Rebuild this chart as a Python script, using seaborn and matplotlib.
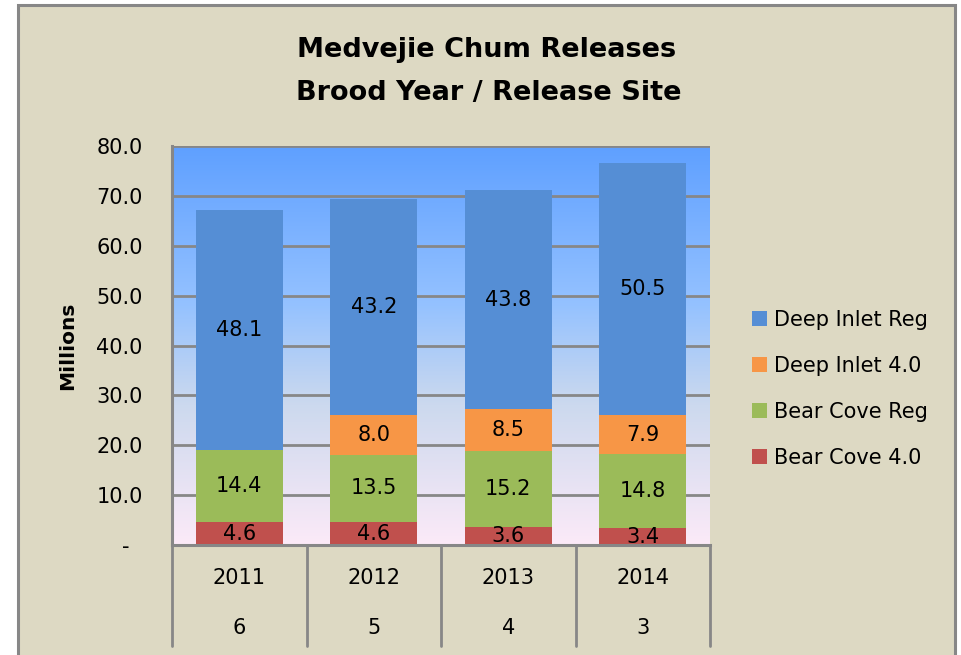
import numpy as np
import pandas as pd
import matplotlib
matplotlib.use("Agg")
import matplotlib.pyplot as plt
import seaborn as sns
from matplotlib.colors import LinearSegmentedColormap
from matplotlib.patches import Rectangle
from matplotlib.lines import Line2D
import matplotlib.transforms as mtransforms

# ---- data ----
years = ["2011", "2012", "2013", "2014"]
sites = ["6", "5", "4", "3"]
bear_cove_40 = [4.6, 4.6, 3.6, 3.4]
bear_cove_reg = [14.4, 13.5, 15.2, 14.8]
deep_inlet_40 = [0.0, 8.0, 8.5, 7.9]
deep_inlet_reg = [48.1, 43.2, 43.8, 50.5]
series_names = ["Bear Cove 4.0", "Bear Cove Reg", "Deep Inlet 4.0", "Deep Inlet Reg"]
series_colors = ["#C0504D", "#9BBB59", "#F79646", "#558ED5"]
y_ticks = [0, 10, 20, 30, 40, 50, 60, 70, 80]

sns.set_theme(style="white")
plt.rcParams["font.family"] = ["DejaVu Sans"]
plt.rcParams["text.color"] = "black"
plt.rcParams["axes.labelcolor"] = "black"
plt.rcParams["xtick.color"] = "black"
plt.rcParams["ytick.color"] = "black"

BG = "#DDD9C3"
GRID = "#878787"
FS = 15

fig = plt.figure(figsize=(9.61, 6.55), dpi=100, facecolor="white")
# outer chart frame
fig.patches.append(Rectangle((17.5 / 961, -0.05), (955 - 17.5) / 961, 1.05 - 5 / 655,
                             transform=fig.transFigure, facecolor=BG,
                             edgecolor=GRID, linewidth=2.2, zorder=-10))

ax = fig.add_axes([172 / 961, 1 - 545 / 655, (710 - 172) / 961, (545 - 146) / 655])
ax.set_facecolor("none")

# gradient background
cmap = LinearSegmentedColormap.from_list(
    "bg", [(0.0, "#FCEAF8"), (0.35, "#CCD9EE"), (0.6, "#95C2FF"), (1.0, "#5FA0FF")])
grad = np.linspace(0, 1, 256).reshape(-1, 1)
ax.imshow(grad, cmap=cmap, origin="lower", aspect="auto",
          extent=[-0.5, 3.5, 0, 80], zorder=0)

# gridlines
for t in y_ticks[1:]:
    ax.axhline(t, color=GRID, lw=2.0, zorder=1)

# stacked bars
data = pd.DataFrame({
    "year": years,
    "Bear Cove 4.0": bear_cove_40,
    "Bear Cove Reg": bear_cove_reg,
    "Deep Inlet 4.0": deep_inlet_40,
    "Deep Inlet Reg": deep_inlet_reg,
})
cum = data[series_names].cumsum(axis=1)
for name, col in reversed(list(zip(series_names, series_colors))):
    sns.barplot(x=data["year"], y=cum[name], color=col, width=0.65,
                linewidth=0, saturation=1, ax=ax, zorder=2)

# data labels
bottoms = np.zeros(len(years))
for name in series_names:
    vals = np.array(data[name])
    for i, v in enumerate(vals):
        if v > 0:
            ax.text(i, bottoms[i] + v / 2, f"{v:.1f}", ha="center", va="center",
                    fontsize=FS, color="black", zorder=4, clip_on=False)
    bottoms += vals

ax.set_xlim(-0.5, 3.5)
ax.set_ylim(0, 80)
ax.set_yticks(y_ticks)
ax.set_yticklabels(["-  " if t == 0 else f"{t:.1f}" for t in y_ticks], fontsize=FS)
ax.tick_params(axis="y", length=0, pad=21)
ax.set_xticks([])
ax.set_xlabel("")
ax.set_ylabel("Millions", fontsize=14.5, fontweight="bold", labelpad=14)
for s in ["top", "right"]:
    ax.spines[s].set_visible(False)
for s in ["left", "bottom"]:
    ax.spines[s].set_color(GRID)
    ax.spines[s].set_linewidth(2.2)
    ax.spines[s].set_zorder(5)

# category table below axis
trans = mtransforms.blended_transform_factory(ax.transData, ax.transAxes)
h_ax = (545 - 146)
for b in [-0.5, 0.5, 1.5, 2.5, 3.5]:
    ax.add_line(Line2D([b, b], [0, -(646 - 545) / h_ax], transform=trans,
                       color=GRID, lw=2.0, clip_on=False, zorder=5))
for i, (yr, st) in enumerate(zip(years, sites)):
    ax.text(i, -(578 - 545) / h_ax, yr, transform=trans, ha="center", va="center",
            fontsize=FS, clip_on=False)
    ax.text(i, -(628 - 545) / h_ax, st, transform=trans, ha="center", va="center",
            fontsize=FS, clip_on=False)

# title
fig.text(487 / 961, 1 - 50 / 655, "Medvejie Chum Releases", ha="center", va="center",
         fontsize=19.5, fontweight="bold")
fig.text(489 / 961, 1 - 93 / 655, "Brood Year / Release Site", ha="center", va="center",
         fontsize=19.5, fontweight="bold")

# legend
handles = [Rectangle((0, 0), 1, 1, facecolor=c, edgecolor="none") for c in series_colors]
leg_order = [3, 2, 1, 0]
leg = fig.legend([handles[i] for i in leg_order], [series_names[i] for i in leg_order],
                 loc="center left", bbox_to_anchor=(752 / 961, 1 - 389 / 655),
                 borderaxespad=0, borderpad=0,
                 frameon=False, fontsize=FS, handlelength=0.7, handleheight=0.7,
                 handletextpad=0.35, labelspacing=1.25)

fig.savefig("out.png", dpi=100, facecolor="white")
